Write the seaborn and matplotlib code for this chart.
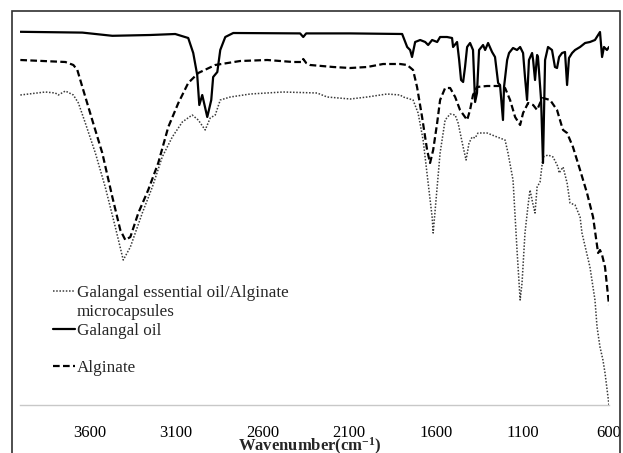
import numpy as np
import pandas as pd
import matplotlib
matplotlib.use("Agg")
import matplotlib.pyplot as plt
from matplotlib.lines import Line2D
from matplotlib.patches import Rectangle
import seaborn as sns

# ---------------- data (wavenumber cm-1, transmittance arbitrary units) ----------------
oil_wn = [3998, 3640, 3467, 3248, 3104, 3029, 3000, 2977, 2965, 2948, 2919, 2896, 2885, 2861,
          2844, 2815, 2769, 2383, 2365, 2348, 2094, 1794, 1765, 1748, 1737, 1719, 1690, 1661,
          1644, 1621, 1592, 1575, 1535, 1506, 1500, 1477, 1465, 1454, 1442, 1431, 1419, 1402,
          1385, 1373, 1362, 1350, 1327, 1315, 1298, 1275, 1258, 1240, 1229, 1212, 1206, 1188,
          1177, 1154, 1131, 1113, 1096, 1085, 1073, 1062, 1044, 1038, 1027, 1015, 1010, 992,
          981, 969, 952, 929, 912, 900, 888, 871, 854, 842, 831, 813, 796, 767, 738, 710, 681,
          652, 640, 629, 612, 600]
oil_t = [93.3, 93.1, 92.3, 92.5, 92.75, 91.75, 88.0, 82.5, 75.0, 77.5, 72.0, 76.25, 82.0, 83.25,
         88.75, 92.0, 93.0, 92.9, 92.0, 92.9, 92.9, 92.75, 89.5, 88.75, 87.0, 90.75, 91.25, 90.75,
         90.0, 91.25, 90.75, 92.0, 92.0, 91.75, 89.5, 90.75, 86.25, 81.25, 80.75, 84.5, 89.5, 90.5,
         88.75, 75.75, 78.0, 88.75, 90.0, 88.75, 90.5, 88.25, 87.0, 80.5, 80.0, 71.25, 79.5, 86.25,
         88.0, 89.25, 88.75, 89.5, 88.0, 82.0, 76.25, 86.25, 88.0, 86.25, 81.25, 87.5, 87.0, 76.25,
         60.5, 86.25, 89.5, 88.75, 84.5, 84.25, 87.0, 88.0, 88.25, 80.0, 86.75, 88.0, 88.75, 89.5,
         90.5, 90.75, 91.25, 93.25, 87.0, 89.5, 88.75, 89.5]

alg_wn = [3998, 3738, 3692, 3669, 3640, 3583, 3525, 3467, 3421, 3392, 3363, 3317, 3260, 3202,
          3144, 3086, 3029, 2971, 2873, 2729, 2573, 2423, 2371, 2365, 2348, 2325, 2192, 2094, 1996,
          1904, 1806, 1765, 1731, 1708, 1679, 1650, 1633, 1615, 1592, 1575, 1546, 1517, 1488, 1460,
          1419, 1402, 1385, 1362, 1304, 1229, 1200, 1171, 1142, 1113, 1096, 1067, 1038, 1015, 998,
          981, 940, 900, 871, 865, 842, 808, 767, 727, 692, 663, 652, 640, 623, 600]
alg_t = [86.25, 85.75, 85.0, 83.75, 79.5, 71.25, 63.0, 52.0, 43.75, 41.25, 42.0, 48.0, 53.75, 60.5,
         69.5, 75.5, 80.5, 83.0, 85.0, 86.0, 86.25, 85.75, 85.75, 86.5, 85.5, 85.0, 84.5, 84.25, 84.5,
         85.25, 85.25, 85.0, 83.75, 79.5, 72.0, 63.75, 60.5, 63.75, 70.5, 76.25, 79.25, 79.25, 77.0, 73.75,
         71.25, 73.75, 77.5, 79.5, 79.75, 79.75, 79.25, 76.25, 72.0, 70.0, 73.0, 75.5, 75.0, 73.75, 75.5,
         76.75, 76.25, 73.75, 69.5, 68.75, 68.0, 64.5, 58.75, 53.0, 47.0, 38.0, 38.75, 37.5, 34.5, 25.0]

mc_wn = [3998, 3854, 3796, 3779, 3738, 3692, 3663, 3623, 3565, 3508, 3450, 3404, 3363, 3294, 3236,
         3179, 3121, 3063, 3006, 2971, 2931, 2902, 2873, 2844, 2786, 2671, 2481, 2285, 2227, 2094,
         1996, 1881, 1806, 1788, 1731, 1702, 1673, 1644, 1621, 1615, 1592, 1575, 1546, 1517, 1488,
         1471, 1442, 1425, 1408, 1390, 1373, 1356, 1304, 1246, 1200, 1183, 1154, 1131, 1113, 1102,
         1085, 1067, 1056, 1038, 1027, 1015, 998, 981, 952, 923, 894, 888, 865, 842, 825, 796, 767,
         756, 710, 681, 669, 652, 635, 623, 600]
mc_t = [77.5, 78.25, 78.0, 77.5, 78.5, 77.5, 75.5, 70.5, 63.0, 54.5, 44.5, 36.25, 39.5, 48.0, 54.5,
        62.0, 67.0, 70.75, 72.5, 71.25, 68.75, 71.75, 72.5, 76.25, 77.0, 77.75, 78.25, 78.0, 77.0, 76.5,
        77.0, 77.75, 77.5, 77.0, 76.25, 73.0, 66.25, 55.5, 47.0, 43.0, 54.5, 63.0, 71.25, 72.75, 72.5,
        70.5, 64.5, 61.25, 65.5, 67.0, 66.75, 68.0, 68.0, 67.0, 66.25, 63.0, 56.25, 38.75, 26.25, 30.5,
        43.0, 50.0, 53.75, 50.0, 48.0, 54.5, 55.75, 62.0, 62.5, 62.0, 59.5, 58.0, 59.5, 55.5, 50.5,
        50.0, 47.0, 43.0, 34.5, 26.25, 19.5, 14.5, 11.25, 8.0, 0.0]

labels = ["Galangal essential oil/Alginate", "Galangal oil", "Alginate"]
xticks = [3600, 3100, 2600, 2100, 1600, 1100, 600]

# ---------------- style ----------------
sns.set_style("white")
plt.rcParams["font.family"] = ["Liberation Serif", "DejaVu Serif"]
plt.rcParams["mathtext.fontset"] = "custom"
plt.rcParams["mathtext.rm"] = "Liberation Serif"
plt.rcParams["mathtext.bf"] = "Liberation Serif:bold"
plt.rcParams["mathtext.default"] = "bf"

W, H = 623, 453
fig = plt.figure(figsize=(W / 100, H / 100), dpi=100)
ax = fig.add_axes([20 / W, (H - 405) / H, (609 - 20) / W, (405 - 11) / H])

mc = pd.DataFrame({"wn": mc_wn, "T": mc_t})
oil = pd.DataFrame({"wn": oil_wn, "T": oil_t})
alg = pd.DataFrame({"wn": alg_wn, "T": alg_t})

sns.lineplot(data=mc, x="wn", y="T", ax=ax, color="#3a3a3a", lw=1.1,
             linestyle=(0, (1, 1.1)), estimator=None, sort=False)
sns.lineplot(data=oil, x="wn", y="T", ax=ax, color="black", lw=1.6,
             estimator=None, sort=False)
sns.lineplot(data=alg, x="wn", y="T", ax=ax, color="black", lw=1.6,
             linestyle=(0, (3, 1.5)), estimator=None, sort=False)

ax.set_xlim(4000, 600)
ax.set_ylim(0, 98.5)
ax.set_xticks(xticks)
ax.set_xticklabels([str(t) for t in xticks], fontsize=12)
ax.set_yticks([])
ax.set_ylabel("")
ax.set_xlabel("Wavenumber(cm$^{-1}$)", fontsize=12, fontweight="bold", va="top")
ax.xaxis.set_label_coords(0.4925, (405 - 436) / 394)

for s in ["top", "right", "left"]:
    ax.spines[s].set_visible(False)
ax.spines["bottom"].set_color("#c8c8c8")
ax.spines["bottom"].set_linewidth(1.0)
ax.tick_params(axis="x", direction="out", length=3, color="#c8c8c8", pad=11.5,
               labelcolor="black")

# legend
h_mc = Line2D([], [], color="#3a3a3a", lw=1.1, linestyle=(0, (1, 1.1)))
h_oil = Line2D([], [], color="black", lw=1.6)
h_alg = Line2D([], [], color="black", lw=1.6, linestyle=(0, (3, 1.5)))
h_blank = Line2D([], [], color="none", lw=0)
leg = ax.legend([h_mc, h_blank, h_oil, h_blank, h_alg],
                [labels[0], "microcapsules", labels[1], "", labels[2]],
                loc="upper left", bbox_to_anchor=((53 - 20) / 589, (405 - 285.3) / 394),
                frameon=False, fontsize=12.3, borderpad=0, borderaxespad=0,
                handlelength=1.29, handletextpad=0.12, labelspacing=0.16)

# chart-area border
fig.patches.append(Rectangle((12 / W, -0.2), (620 - 12) / W, (H - 11) / H + 0.2,
                             transform=fig.transFigure, fill=False,
                             edgecolor="#303030", lw=1.2, zorder=10))

fig.savefig("out.png", dpi=100)
